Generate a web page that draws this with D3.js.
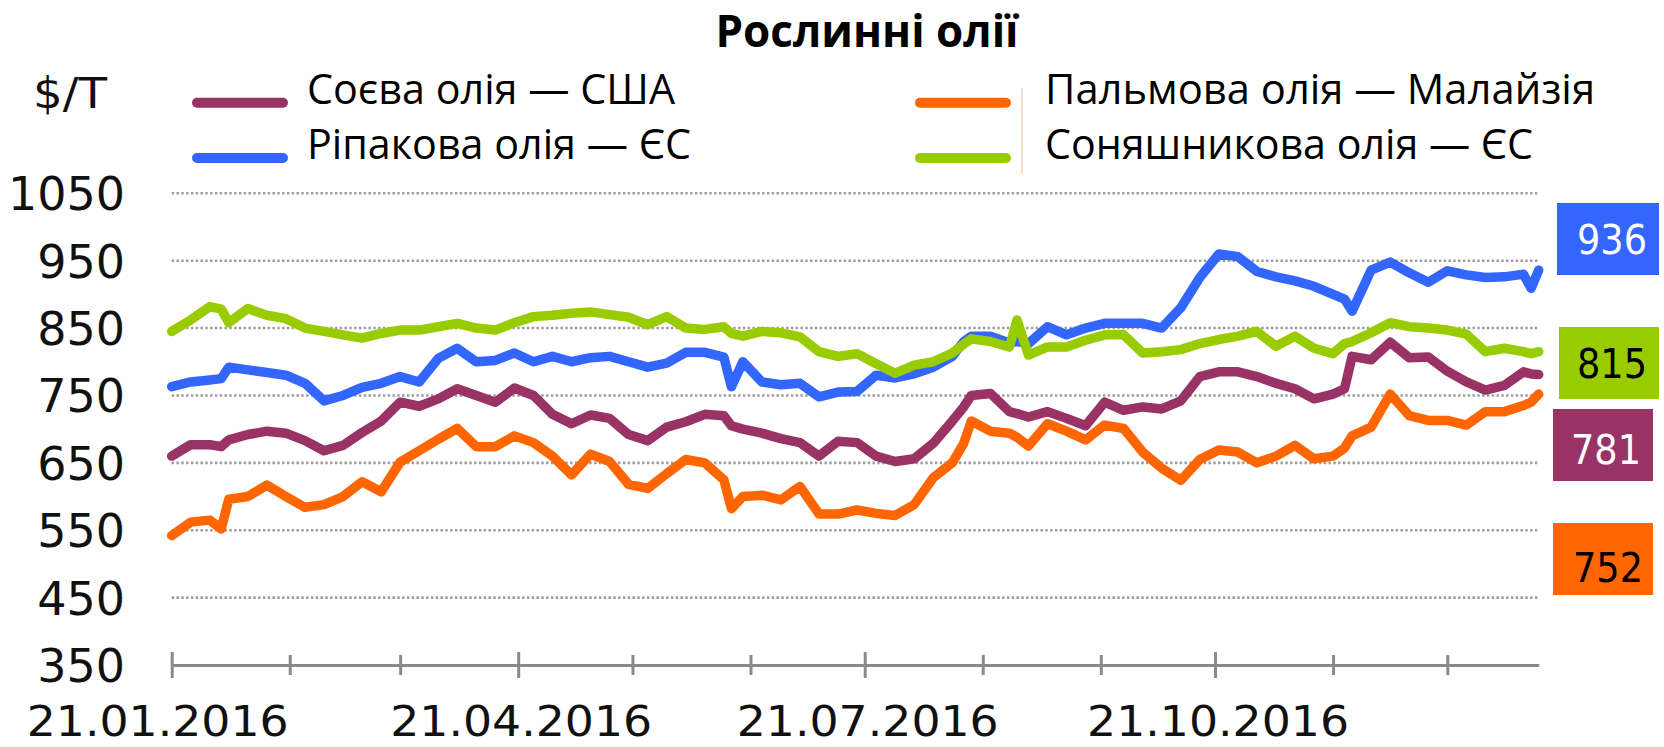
<!DOCTYPE html>
<html>
<head>
<meta charset="utf-8">
<style>
  body { margin: 0; background: #fff; }
  svg { display: block; }
</style>
</head>
<body>
<svg width="1664" height="747"></svg>
<script src="https://d3js.org/d3.v7.min.js"></script>
<script>

let width = 1664
let height = 747

// Data
let dates = ["2016-01-21","2016-01-26","2016-01-31","2016-02-03","2016-02-05","2016-02-10","2016-02-15","2016-02-20","2016-02-25","2016-03-01",
  "2016-03-06","2016-03-11","2016-03-16","2016-03-21","2016-03-26","2016-03-31","2016-04-05","2016-04-10","2016-04-15","2016-04-20",
  "2016-04-25","2016-04-30","2016-05-05","2016-05-10","2016-05-15","2016-05-20","2016-05-25","2016-05-30","2016-06-04","2016-06-09",
  "2016-06-14","2016-06-16","2016-06-19","2016-06-24","2016-06-29","2016-07-04","2016-07-09","2016-07-14","2016-07-19","2016-07-24",
  "2016-07-29","2016-08-03","2016-08-08","2016-08-13","2016-08-16","2016-08-18","2016-08-23","2016-08-28","2016-08-30","2016-09-02",
  "2016-09-07","2016-09-12","2016-09-17","2016-09-22","2016-09-27","2016-10-02","2016-10-07","2016-10-12","2016-10-17","2016-10-22",
  "2016-10-27","2016-11-01","2016-11-06","2016-11-11","2016-11-16","2016-11-21","2016-11-24","2016-11-26","2016-12-01","2016-12-06",
  "2016-12-11","2016-12-16","2016-12-21","2016-12-26","2016-12-31","2017-01-05","2017-01-10","2017-01-12","2017-01-14"]

let soy = [660,677,677,674,684,692,697,694,683,668,
  676,695,712,740,734,745,760,750,740,761,
  750,722,708,721,716,692,683,703,711,722,
  720,705,700,694,686,680,660,682,680,660,
  652,656,679,712,733,750,753,726,723,718,
  726,716,705,740,728,733,730,742,778,785,
  785,778,768,760,745,752,760,808,803,829,
  806,807,786,770,758,765,785,782,781]

let rapeseed = [763,770,773,775,792,788,784,780,768,742,
  750,762,768,778,770,805,820,800,802,813,
  800,808,800,806,808,800,792,798,814,814,
  807,763,800,770,766,768,748,755,756,780,
  776,782,792,808,830,838,838,828,830,827,
  852,840,850,857,857,857,850,880,925,960,
  956,934,926,920,912,900,893,875,936,948,
  932,918,935,929,925,926,930,909,936]

let palm = [542,562,565,552,596,600,617,600,584,588,
  600,622,607,651,668,685,701,674,674,690,
  680,660,632,663,652,618,612,634,655,650,
  625,582,600,602,595,615,574,574,580,575,
  572,588,628,650,679,712,697,694,688,675,
  708,697,684,706,701,666,642,624,655,669,
  666,650,660,676,656,660,672,690,703,752,
  720,713,713,706,726,726,735,740,752]

let sunflower = [845,862,882,878,858,879,869,864,850,845,
  840,835,842,847,847,852,857,850,847,858,
  867,869,872,874,870,866,855,867,850,848,
  852,842,838,845,843,837,815,808,812,797,
  783,795,800,813,826,834,830,822,862,810,
  822,822,832,840,840,813,815,818,827,833,
  838,845,823,838,820,812,827,830,843,858,
  852,850,847,841,815,820,815,812,815]

let seriesNames = ["Соєва олія — США", "Ріпакова олія — ЄС", "Пальмова олія — Малайзія", "Соняшникова олія — ЄС"]
let seriesColors = ["#993366", "#3366ff", "#ff6600", "#99cc00"]
let yTicks = [350, 450, 550, 650, 750, 850, 950, 1050]
let monthTicks = ["2016-01-21","2016-02-21","2016-03-21","2016-04-21","2016-05-21","2016-06-21",
  "2016-07-21","2016-08-21","2016-09-21","2016-10-21","2016-11-21","2016-12-21"]
let labelTicks = ["2016-01-21","2016-04-21","2016-07-21","2016-10-21"]

let svg = d3.select("svg").attr("viewBox", "0 0 " + width + " " + height)
let parse = d3.utcParse("%Y-%m-%d")

let x = d3.scaleUtc()
  .domain([parse(dates[0]), parse(dates[dates.length - 1])])
  .range([171.7, 1538.7])
let y = d3.scaleLinear().domain([350, 1050]).range([665, 193.3])

// title
svg.append("text")
  .attr("x", 867).attr("y", 47)
  .attr("text-anchor", "middle")
  .attr("textLength", 303).attr("lengthAdjust", "spacingAndGlyphs")
  .style("font-family", "'Open Sans', sans-serif")
  .style("font-weight", 700).style("font-size", "45px")
  .text("Рослинні олії")

// unit
svg.append("text")
  .attr("x", 33).attr("y", 108)
  .attr("textLength", 74).attr("lengthAdjust", "spacingAndGlyphs")
  .style("font-family", "'DejaVu Sans', sans-serif").style("font-size", "43px")
  .style("fill", "#111")
  .text("$/T")

// gridlines
svg.append("g").selectAll("line")
  .data(yTicks.filter(d => d > 350))
  .enter().append("line")
  .attr("x1", x.range()[0]).attr("x2", x.range()[1])
  .attr("y1", d => y(d)).attr("y2", d => y(d))
  .style("stroke", "#9c9c9c").style("stroke-width", 2.6)
  .style("stroke-dasharray", "2.4,2.4")

// y labels
svg.append("g").selectAll("text")
  .data(yTicks)
  .enter().append("text")
  .attr("x", 125).attr("y", d => y(d) + 17)
  .attr("text-anchor", "end")
  .style("font-family", "'DejaVu Sans', sans-serif").style("font-size", "46px")
  .style("fill", "#111")
  .text(d => d)

// x axis
let majors = labelTicks.map(d => +parse(d))
let axis = svg.append("g")
  .attr("transform", "translate(0," + y(350) + ")")
  .call(d3.axisBottom(x).tickValues(monthTicks.map(parse)).tickSizeOuter(0).tickFormat(""))
axis.select(".domain").style("stroke", "#8a8a8a").style("stroke-width", 3)
axis.selectAll(".tick line")
  .attr("y1", d => majors.includes(+d) ? -13 : -10)
  .attr("y2", d => majors.includes(+d) ? 13 : 10)
  .style("stroke", "#8a8a8a").style("stroke-width", 3)

svg.append("g").selectAll("text")
  .data(labelTicks)
  .enter().append("text")
  .attr("x", (d, i) => x(parse(d)) + (i == 0 ? -14 : 3))
  .attr("y", 736)
  .attr("text-anchor", "middle")
  .attr("textLength", 262).attr("lengthAdjust", "spacingAndGlyphs")
  .style("font-family", "'DejaVu Sans', sans-serif").style("font-size", "43px")
  .style("fill", "#111")
  .text(d => d.split("-").reverse().join("."))

// lines
let line = d3.line()
  .x((d, i) => x(parse(dates[i])))
  .y(d => y(d))

let drawOrder = [[rapeseed, 1], [sunflower, 3], [soy, 0], [palm, 2]]
drawOrder.forEach(s => {
  svg.append("path")
    .datum(s[0])
    .attr("d", line)
    .style("fill", "none")
    .style("stroke", seriesColors[s[1]])
    .style("stroke-width", 9.5)
    .style("stroke-linejoin", "round")
    .style("stroke-linecap", "round")
})

// legend
let legendPos = [[197, 102.7], [197, 158], [920, 102.7], [920, 158]]
let legendLen = [368, 384, 550, 488]
seriesNames.forEach((name, i) => {
  let p = legendPos[i]
  svg.append("line")
    .attr("x1", p[0]).attr("x2", p[0] + 86)
    .attr("y1", p[1]).attr("y2", p[1])
    .style("stroke", seriesColors[i]).style("stroke-width", 10)
    .style("stroke-linecap", "round")
  svg.append("text")
    .attr("x", p[0] + 110 + (i > 1 ? 15 : 0)).attr("y", p[1] + 1)
    .attr("textLength", legendLen[i]).attr("lengthAdjust", "spacingAndGlyphs")
    .style("font-family", "'Open Sans', sans-serif").style("font-size", "42px")
    .text(name)
})
svg.append("line")
  .attr("x1", 1022).attr("x2", 1022).attr("y1", 88).attr("y2", 174)
  .style("stroke", "#f6c9a6").style("stroke-width", 1.2)

// last value boxes
let lastVals = [soy, rapeseed, palm, sunflower].map(s => s[s.length - 1])
let boxes = [[1553, 409, 100, 1606], [1557, 203, 102, 1612], [1553, 523, 100, 1608], [1559, 327, 100, 1612]]
let boxText = ["#fff", "#fff", "#000", "#000"]
lastVals.forEach((v, i) => {
  let b = boxes[i]
  svg.append("rect")
    .attr("x", b[0]).attr("y", b[1]).attr("width", b[2]).attr("height", 72)
    .style("fill", seriesColors[i])
  svg.append("text")
    .attr("x", b[3]).attr("y", b[1] + 36 + 14.5 + (i == 2 ? 8 : i == 0 ? 4 : 0))
    .attr("text-anchor", "middle")
    .attr("textLength", 70).attr("lengthAdjust", "spacingAndGlyphs")
    .style("font-family", "'DejaVu Sans', sans-serif").style("font-size", "41px")
    .style("fill", boxText[i])
    .text(v)
})

</script>
</body>
</html>
